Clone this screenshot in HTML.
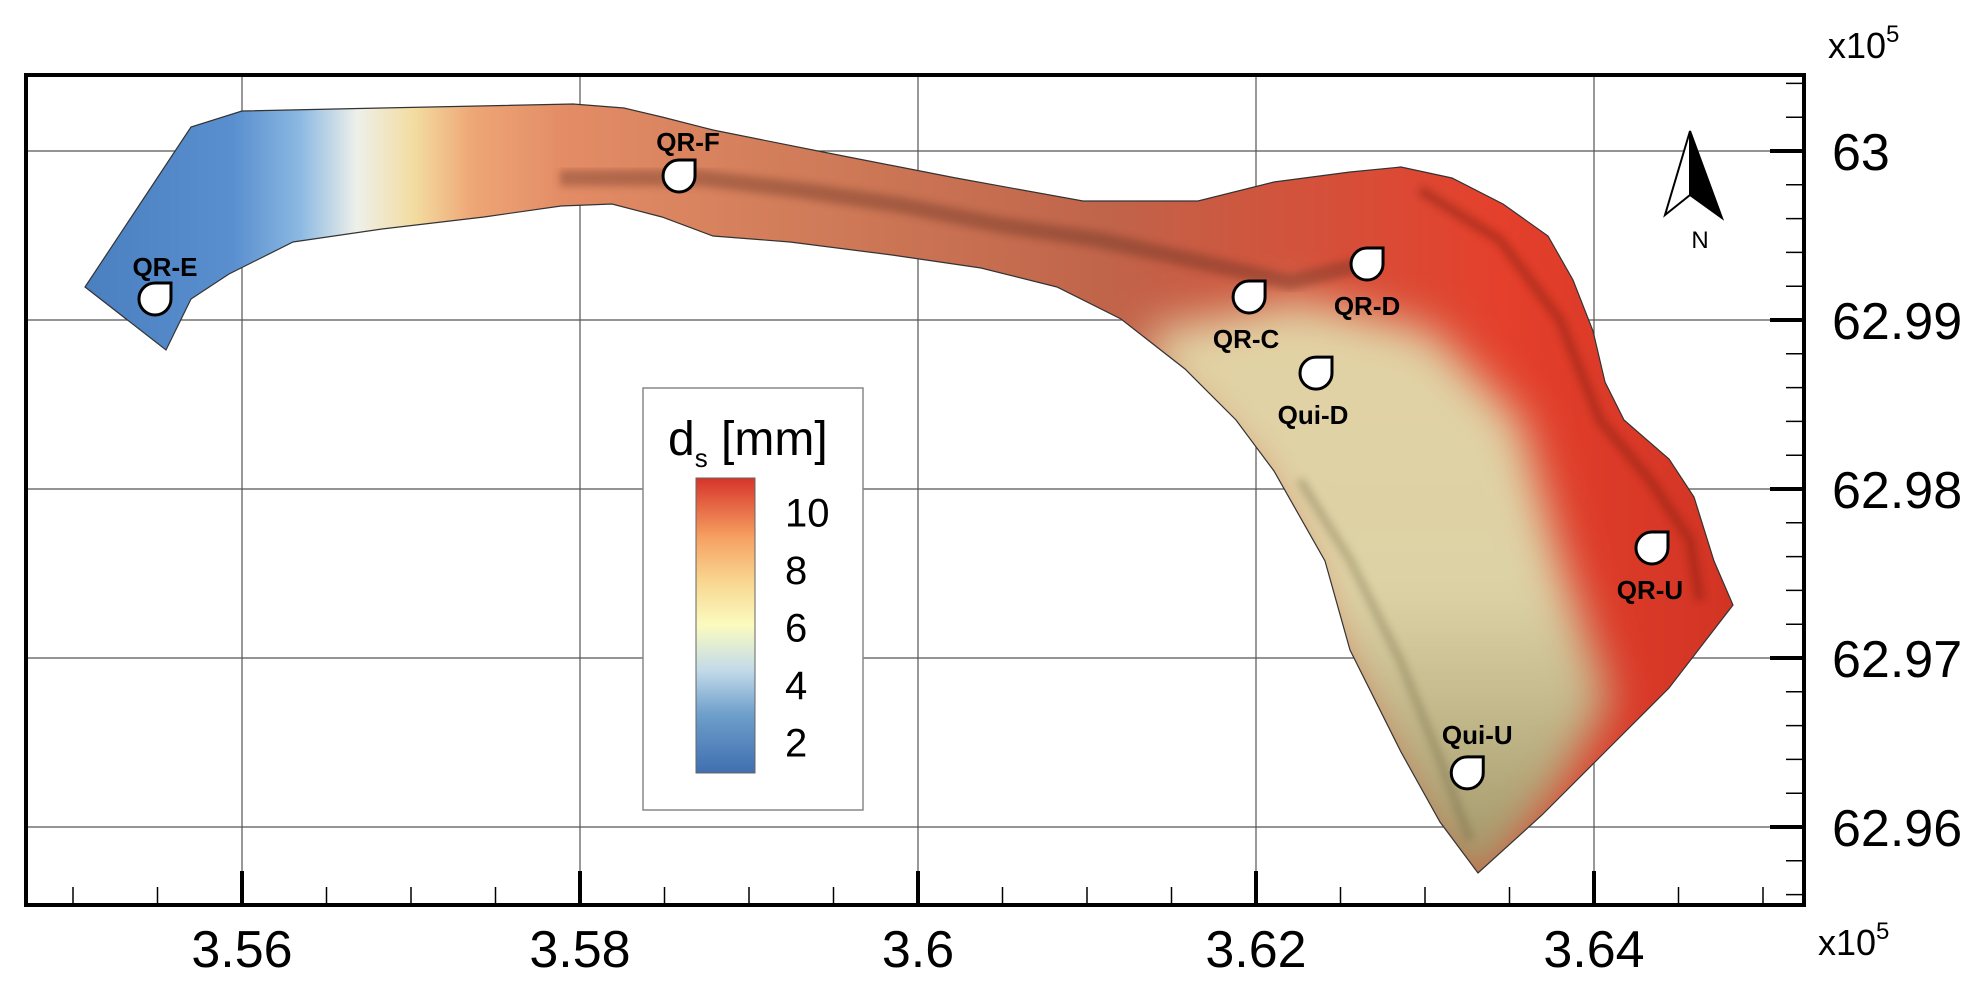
<!DOCTYPE html>
<html><head><meta charset="utf-8"><style>
html,body{margin:0;padding:0;background:#fff;}
svg{display:block;font-family:"Liberation Sans",sans-serif;}
</style></head><body>
<svg id="chart" width="1987" height="993" viewBox="0 0 1987 993">
<defs>
<linearGradient id="riverGrad" x1="85" y1="0" x2="1733" y2="0" gradientUnits="userSpaceOnUse">
<stop offset="0" stop-color="#4a7fc0"/><stop offset="0.09" stop-color="#5a8fcf"/>
<stop offset="0.13" stop-color="#8ab8e2"/><stop offset="0.165" stop-color="#eef0ea"/>
<stop offset="0.2" stop-color="#f3dca0"/><stop offset="0.235" stop-color="#eea676"/>
<stop offset="0.29" stop-color="#e38c66"/><stop offset="0.45" stop-color="#cf7a58"/>
<stop offset="0.62" stop-color="#c0644a"/><stop offset="0.75" stop-color="#d5503a"/>
<stop offset="0.86" stop-color="#e4402c"/><stop offset="1" stop-color="#d23424"/>
</linearGradient>
<linearGradient id="beigeGrad" x1="0" y1="300" x2="0" y2="873" gradientUnits="userSpaceOnUse">
<stop offset="0" stop-color="#e2d2a4"/><stop offset="0.5" stop-color="#ddd3a6"/><stop offset="1" stop-color="#a09668"/>
</linearGradient>
<linearGradient id="cbGrad" x1="0" y1="1" x2="0" y2="0">
<stop offset="0" stop-color="#3f6faf"/><stop offset="0.2" stop-color="#6f9fcb"/>
<stop offset="0.35" stop-color="#c3dbe9"/><stop offset="0.5" stop-color="#fbfbbf"/>
<stop offset="0.65" stop-color="#f8d690"/><stop offset="0.8" stop-color="#f6a062"/>
<stop offset="1" stop-color="#d6342a"/>
</linearGradient>
<filter id="blur" x="-20%" y="-20%" width="140%" height="140%"><feGaussianBlur stdDeviation="22"/></filter>
<filter id="blur2"><feGaussianBlur stdDeviation="4"/></filter>
<clipPath id="riverClip"><polygon id="clipPoly"/></clipPath>
</defs>
<g id="grid"></g>
<g id="river"></g>
<g id="axes"></g>
<g id="stations"></g>
</svg>
<script>
// axis data
const xTicks = [3.56, 3.58, 3.6, 3.62, 3.64];
const xTickLabels = ["3.56", "3.58", "3.6", "3.62", "3.64"];
const yTicks = [63, 62.99, 62.98, 62.97, 62.96];
const yTickLabels = ["63", "62.99", "62.98", "62.97", "62.96"];
// station data (x,y in 1e5 m)
const stationNames = ["QR-E", "QR-F", "QR-C", "QR-D", "Qui-D", "QR-U", "Qui-U"];
const stationX = [3.55485, 3.58586, 3.61959, 3.62657, 3.62355, 3.64343, 3.6325];
const stationY = [62.99124, 62.99852, 62.99136, 62.99331, 62.98686, 62.97651, 62.9632];
const labelDy = [-32, -34, 42, 42, 42, 42, -38];
const labelDx = [10, 9, -3, 0, -3, -2, 10];
// colorbar data
const cbTicks = [10, 8, 6, 4, 2];
const cbMin = 0.94, cbMax = 11.2;

const NS = "http://www.w3.org/2000/svg";
const X = v => 242 + (v - 3.56) / 0.02 * 338;
const Y = v => 151 + (63 - v) / 0.01 * 169;
const L = 26, R = 1804, T = 75, B = 905;
function mk(tag, attrs, parent, text) {
  const e = document.createElementNS(NS, tag);
  for (const k in attrs) e.setAttribute(k, attrs[k]);
  if (text !== undefined) e.textContent = text;
  parent.appendChild(e); return e;
}
const grid = document.getElementById('grid');
xTicks.forEach(v => {
  const l = mk('line', {x1: X(v), x2: X(v), y1: T, y2: B, stroke: '#555', 'stroke-width': 1.2}, grid);
  
  
});
yTicks.forEach(v => {
  const l = mk('line', {x1: L, x2: R, y1: Y(v), y2: Y(v), stroke: '#555', 'stroke-width': 1.2}, grid);
  
  
});

// river outline (map geometry in pixels)
const riverOutlinePx = [[85,287],[191,127],[242,111],[382,108],[573,104],[624,108],[662,117],[713,130],[828,153],[956,178],[1083,201],[1198,201],[1274,182],[1350,172],[1401,167],[1452,178],[1503,204],[1548,236],[1573,280],[1593,331],[1605,382],[1624,420],[1669,459],[1694,497],[1714,561],[1733,605],[1669,688],[1605,752],[1542,815],[1478,873],[1440,822],[1401,752],[1350,650],[1325,561],[1274,471],[1236,420],[1185,369],[1121,319],[1057,287],[981,268],[892,255],[790,242],[713,236],[662,217],[612,204],[561,206],[484,217],[382,229],[293,242],[229,274],[191,299],[166,350]];
const pts = riverOutlinePx.map(p => p.join(',')).join(' ');
document.getElementById('clipPoly').setAttribute('points', pts);
const river = document.getElementById('river');
const rg = mk('g', {'clip-path': 'url(#riverClip)'}, river);
mk('polygon', {points: pts, fill: 'url(#riverGrad)'}, rg);
mk('polygon', {points: '1150,330 1300,300 1430,330 1520,420 1560,560 1610,700 1560,790 1478,900 1420,830 1380,752 1330,650 1300,561 1250,471 1200,420 1150,369', fill: 'url(#beigeGrad)', filter: 'url(#blur)'}, rg);
mk('polyline', {points: '560,178 700,178 800,190 900,205 1000,225 1100,240 1200,262 1290,282 1360,265', fill: 'none', stroke: '#5a2a1a', 'stroke-width': 16, opacity: 0.35, filter: 'url(#blur2)'}, rg);
mk('polyline', {points: '1420,190 1500,240 1560,320 1600,420 1650,480 1690,540 1700,600', fill: 'none', stroke: '#7a1a10', 'stroke-width': 10, opacity: 0.4, filter: 'url(#blur2)'}, rg);
mk('polyline', {points: '1300,480 1350,560 1400,660 1440,760 1470,840', fill: 'none', stroke: '#6a6040', 'stroke-width': 8, opacity: 0.35, filter: 'url(#blur2)'}, rg);
const outline = mk('polygon', {points: pts, fill: 'none', stroke: '#333', 'stroke-width': 1.2}, river);



// axes
const axes = document.getElementById('axes');
const frame = mk('rect', {x: L, y: T, width: R - L, height: B - T, fill: 'none', stroke: '#000', 'stroke-width': 4}, axes);


for (let v = 3.55; v <= 3.6551; v += 0.005) {
  const px = X(v);
  if (px <= L + 3 || px >= R - 3) continue;
  const major = xTicks.some(t => Math.abs(t - v) < 1e-6);
  mk('line', {x1: px, x2: px, y1: B, y2: B - (major ? 34 : 18), stroke: '#000', 'stroke-width': major ? 4 : 1.5}, axes);
}
for (let v = 62.954; v <= 63.0076; v += 0.002) {
  const py = Y(v);
  if (py <= T + 3 || py >= B - 3) continue;
  const major = yTicks.some(t => Math.abs(t - v) < 1e-6);
  mk('line', {x1: R, x2: R - (major ? 34 : 18), y1: py, y2: py, stroke: '#000', 'stroke-width': major ? 4 : 1.5}, axes);
}
xTicks.forEach((v, i) => {
  const t = mk('text', {x: X(v), y: 967, 'font-size': 52, 'text-anchor': 'middle'}, axes, xTickLabels[i]);
  
  
});
yTicks.forEach((v, i) => {
  const t = mk('text', {x: 1832, y: Y(v) + 19, 'font-size': 52}, axes, yTickLabels[i]);
  
  
});
const xe = mk('text', {x: 1818, y: 955, 'font-size': 36}, axes);
xe.innerHTML = 'x10<tspan dy="-16" font-size="24">5</tspan>';


const ye = mk('text', {x: 1828, y: 58, 'font-size': 36}, axes);
ye.innerHTML = 'x10<tspan dy="-16" font-size="24">5</tspan>';



// north arrow
const na = mk('g', {}, axes);


mk('polygon', {points: '1690,131 1665,215 1690,195', fill: '#fff', stroke: '#000', 'stroke-width': 2}, na);
mk('polygon', {points: '1690,131 1722,218 1690,195', fill: '#000', stroke: '#000', 'stroke-width': 2}, na);
mk('text', {x: 1700, y: 248, 'font-size': 24, 'text-anchor': 'middle'}, na, 'N');

// legend
const lg = mk('g', {}, axes);


mk('rect', {x: 643, y: 388, width: 220, height: 422, fill: '#fff', stroke: '#888', 'stroke-width': 1.5}, lg);
const ttl = mk('text', {x: 668, y: 455, 'font-size': 48}, lg);
ttl.innerHTML = 'd<tspan dy="12" font-size="26">s</tspan><tspan dy="-12"> [mm]</tspan>';
const cbTop = 478, cbBot = 773;
const CB = v => cbBot - (v - cbMin) / (cbMax - cbMin) * (cbBot - cbTop);
const cb = mk('rect', {x: 696, y: cbTop, width: 59, height: cbBot - cbTop, fill: 'url(#cbGrad)', stroke: '#666', 'stroke-width': 1}, lg);


cbTicks.forEach(v => {
  const t = mk('text', {x: 785, y: CB(v) + 14, 'font-size': 40}, lg, String(v));
  
  
});

// stations
const st = document.getElementById('stations');
stationNames.forEach((n, i) => {
  const cx = X(stationX[i]), cy = Y(stationY[i]), r = 16;
  const g = mk('g', {}, st);
  
  
  mk('path', {d: `M${cx + r},${cy} A${r},${r} 0 1 1 ${cx},${cy - r} L${cx + r},${cy - r} Z`, fill: '#fff', stroke: '#000', 'stroke-width': 3}, g);
  mk('text', {x: cx + labelDx[i], y: cy + labelDy[i] + 9, 'font-size': 26, 'font-weight': 'bold', 'text-anchor': 'middle'}, g, n);
});
</script>
</body></html>
